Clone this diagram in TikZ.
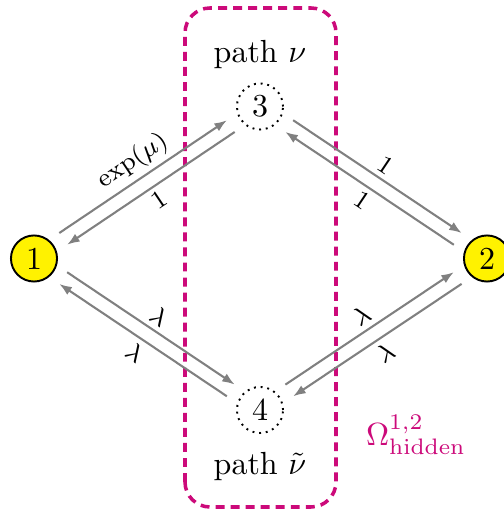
\documentclass[tikz,border=0pt]{standalone}
\usetikzlibrary{calc,arrows.meta}
\definecolor{hid}{RGB}{204,10,122}
\begin{document}
\begin{tikzpicture}[x=0.3125pt,y=0.3125pt,
  state/.style={circle,draw=black,line width=0.6pt,fill=yellow,minimum size=14.4pt,inner sep=0pt},
  hstate/.style={circle,draw=black,line width=0.6pt,dash pattern=on 0.6pt off 1.5pt,minimum size=14.4pt,inner sep=0pt},
  arr/.style={draw=gray,line width=0.65pt,-{Latex[length=3.9pt,width=2.9pt]},shorten <=11pt,shorten >=11pt},
  lbl/.style={sloped,font=\footnotesize,inner sep=1.5pt,text=black},
  hbox/.style={draw=hid,line width=1.1pt,dash pattern=on 2.8pt off 1.9pt,rounded corners=7.8pt}]
\useasboundingbox (0,0) rectangle (504,510);
\draw[hbox] (185,3) rectangle (336,502);
\node[state] (n1) at (34,251.5) {1};
\node[state] (n2) at (487,251.5) {2};
\node[hstate] (n3) at (260,403.5) {3};
\node[hstate] (n4) at (260,100) {4};
\node (p3) at (260,455) {path $\nu$};
\node (p4) at (260,44) {path $\tilde{\nu}$};
\node[text=hid] (om) at (416,75) {$\Omega^{1,2}_{\mathrm{hidden}}$};
\draw[arr] ($(n1)!2.2pt!90:(n3)$) -- node[lbl,above]{$\exp(\mu)$} ($(n3)!2.2pt!-90:(n1)$);
\draw[arr] ($(n3)!2.2pt!90:(n1)$) -- node[lbl,below]{$1$} ($(n1)!2.2pt!-90:(n3)$);
\draw[arr] ($(n3)!2.2pt!90:(n2)$) -- node[lbl,above]{$1$} ($(n2)!2.2pt!-90:(n3)$);
\draw[arr] ($(n2)!2.2pt!90:(n3)$) -- node[lbl,below]{$1$} ($(n3)!2.2pt!-90:(n2)$);
\draw[arr] ($(n1)!2.2pt!90:(n4)$) -- node[lbl,above]{$\lambda$} ($(n4)!2.2pt!-90:(n1)$);
\draw[arr] ($(n4)!2.2pt!90:(n1)$) -- node[lbl,below]{$\lambda$} ($(n1)!2.2pt!-90:(n4)$);
\draw[arr] ($(n4)!2.2pt!90:(n2)$) -- node[lbl,above]{$\lambda$} ($(n2)!2.2pt!-90:(n4)$);
\draw[arr] ($(n2)!2.2pt!90:(n4)$) -- node[lbl,below]{$\lambda$} ($(n4)!2.2pt!-90:(n2)$);
\end{tikzpicture}
\end{document}
